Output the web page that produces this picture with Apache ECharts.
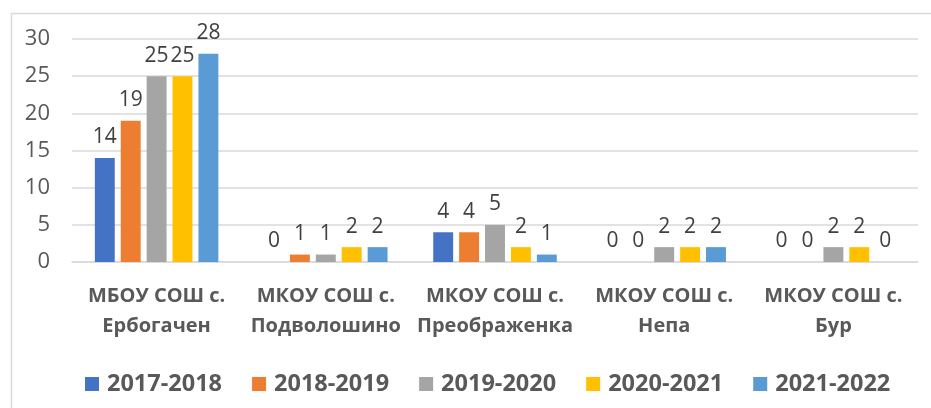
<!DOCTYPE html>
<html>
<head>
<meta charset="utf-8">
<title>Chart</title>
<script src="https://cdn.jsdelivr.net/npm/echarts@6/dist/echarts.min.js"></script>
<style>
  html, body { margin: 0; padding: 0; background: #fff; }
  #main { width: 931px; height: 408px; }
</style>
</head>
<body>
<div id="main"></div>
<script>
// schools
var categories = ['МБОУ СОШ с.\nЕрбогачен', 'МКОУ СОШ с.\nПодволошино', 'МКОУ СОШ с.\nПреображенка', 'МКОУ СОШ с.\nНепа', 'МКОУ СОШ с.\nБур'];
var years = ['2017-2018', '2018-2019', '2019-2020', '2020-2021', '2021-2022'];
var y2017 = [14, 0, 4, 0, 0];
var y2018 = [19, 1, 4, 0, 0];
var y2019 = [25, 1, 5, 2, 2];
var y2020 = [25, 2, 2, 2, 2];
var y2021 = [28, 2, 1, 2, 0];
var colors = ['#4472C4', '#ED7D31', '#A5A5A5', '#FFC000', '#5B9BD5'];

var values = [y2017, y2018, y2019, y2020, y2021];
var font = 'Open Sans, Liberation Sans, sans-serif';

var series = years.map(function (name, i) {
    return {
        name: name,
        type: 'bar',
        data: values[i],
        barGap: '30%',
        barCategoryGap: '27%',
        itemStyle: { color: colors[i] },
        label: {
            show: true, position: 'top', distance: 10,
            color: '#404040', fontSize: 21, fontFamily: font
        }
    };
});

var chart = echarts.init(document.getElementById('main'));
chart.setOption({
    animation: false,
    graphic: [{
        type: 'rect', left: 9, top: 11,
        shape: { width: 940, height: 420 },
        style: { fill: 'none', stroke: '#d9d9d9', lineWidth: 1.5 }
    }],
    grid: { left: 72, right: 13, top: 39, bottom: 146 },
    legend: {
        top: 367, left: 80,
        itemWidth: 14, itemHeight: 14, itemGap: 30,
        icon: 'rect',
        textStyle: { color: '#595959', fontSize: 23.5, fontWeight: 'bold', fontFamily: font, padding: [0, 0, 0, 3] }
    },
    xAxis: {
        type: 'category', data: categories,
        axisLine: { lineStyle: { color: '#d9d9d9', width: 1.5 } },
        axisTick: { show: false },
        axisLabel: {
            color: '#595959', fontSize: 20, fontWeight: 'bold', fontFamily: font,
            lineHeight: 30, margin: 19, interval: 0
        }
    },
    yAxis: {
        type: 'value', min: 0, max: 30, interval: 5,
        axisLine: { show: false },
        axisTick: { show: false },
        axisLabel: { color: '#595959', fontSize: 22, fontFamily: font, margin: 22 },
        splitLine: { lineStyle: { color: '#d9d9d9', width: 1.5 } }
    },
    series: series
});
</script>
</body>
</html>
